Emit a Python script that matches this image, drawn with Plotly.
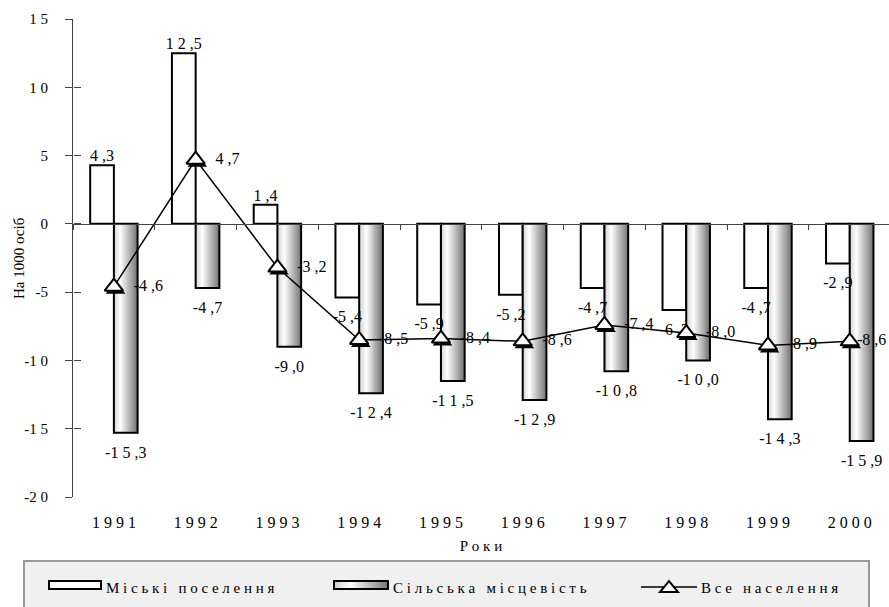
import plotly.graph_objects as go

# Природний приріст населення, на 1000 осіб
years = ["1991", "1992", "1993", "1994", "1995", "1996", "1997", "1998", "1999", "2000"]
urban = [4.3, 12.5, 1.4, -5.4, -5.9, -5.2, -4.7, -6.3, -4.7, -2.9]
rural = [-15.3, -4.7, -9.0, -12.4, -11.5, -12.9, -10.8, -10.0, -14.3, -15.9]
total = [-4.6, 4.7, -3.2, -8.5, -8.4, -8.6, -7.4, -8.0, -8.9, -8.6]
y_ticks = [15, 10, 5, 0, -5, -10, -15, -20]

name_urban = "Міські поселення"
name_rural = "Сільська місцевість"
name_total = "Все населення"
x_title = "Роки"
y_title = "На 1000 осіб"

FONT = "Liberation Serif, Times New Roman, serif"
INK = "#000000"
AXIS = "#444444"

# figure geometry (px)
FIG_W, FIG_H = 889, 607
M_L, M_R, M_T, M_B = 73, 0, 19, 110
PLOT_W = FIG_W - M_L - M_R
PLOT_H = FIG_H - M_T - M_B
PLOT_BOTTOM = FIG_H - M_B
X_RANGE = [-0.5, 9.48]
Y_RANGE = [-20, 15]

BAR_W = 0.29          # width of one bar, in category units
N_SLICES = 24         # slices used to shade the rural bars
GRAD = [(0.0, (206, 206, 206)), (0.3, (255, 255, 255)), (1.0, (118, 118, 118))]


def spread(s):
    """Letter-spaced text."""
    return "   ".join(" ".join(w) for w in s.split())


def num_label(v):
    ip, dp = f"{abs(v):.1f}".split(".")
    return ("-" if v < 0 else "") + " ".join(ip) + " ," + dp


def tick_label(v):
    return ("-" if v < 0 else "") + " ".join(str(abs(v)))


def grad_color(t):
    for (t0, c0), (t1, c1) in zip(GRAD[:-1], GRAD[1:]):
        if t <= t1:
            f = (t - t0) / (t1 - t0)
            return "rgb(%d,%d,%d)" % tuple(round(a + (b - a) * f) for a, b in zip(c0, c1))
    return "rgb(%d,%d,%d)" % GRAD[-1][1]


def px_x(px):
    return (px - M_L) / PLOT_W


def px_y(py):
    return (PLOT_BOTTOM - py) / PLOT_H


fig = go.Figure()

# urban bars (left of each year)
fig.add_trace(go.Bar(
    x=years, y=urban, offset=-BAR_W, width=BAR_W,
    marker=dict(color="white", line=dict(color=INK, width=2)),
    showlegend=False, name=name_urban,
))

# rural bars: shaded slices, then the outline
sw = BAR_W / N_SLICES
for i in range(N_SLICES):
    fig.add_trace(go.Bar(
        x=years, y=rural, offset=i * sw, width=sw * 1.15 if i < N_SLICES - 1 else sw,
        marker=dict(color=grad_color((i + 0.5) / N_SLICES), line=dict(width=0)),
        hoverinfo="skip", showlegend=False,
    ))
fig.add_trace(go.Bar(
    x=years, y=rural, offset=0, width=BAR_W,
    marker=dict(color="rgba(0,0,0,0)", line=dict(color=INK, width=2)),
    showlegend=False, name=name_rural,
))

idx = list(range(len(years)))
label_font = dict(family=FONT, size=16, color=INK)

# bar value labels (overlay axes share the same scale); invisible markers set the gap
for xs, vals in (([i - BAR_W / 2 for i in idx], urban), ([i + BAR_W / 2 for i in idx], rural)):
    fig.add_trace(go.Scatter(
        x=xs, y=vals, xaxis="x2", yaxis="y2", mode="markers+text",
        marker=dict(size=[0 if v >= 0 else 19 for v in vals], opacity=0),
        text=[num_label(v) for v in vals],
        textposition=["top center" if v >= 0 else "bottom center" for v in vals],
        textfont=label_font, cliponaxis=False, showlegend=False, hoverinfo="skip",
    ))

# total population line
fig.add_trace(go.Scatter(
    x=idx, y=total, xaxis="x2", yaxis="y2", mode="lines",
    line=dict(color=INK, width=1.5), showlegend=False, hoverinfo="skip",
))
fig.add_trace(go.Scatter(
    x=[i + 0.02 for i in idx], y=[v - 0.2 for v in total], xaxis="x2", yaxis="y2",
    mode="markers", marker=dict(symbol="triangle-up", size=17, color=INK),
    showlegend=False, hoverinfo="skip",
))
fig.add_trace(go.Scatter(
    x=idx, y=total, xaxis="x2", yaxis="y2", mode="markers",
    marker=dict(symbol="triangle-up", size=16, color="white", line=dict(color=INK, width=2)),
    showlegend=False, name=name_total,
))
fig.add_trace(go.Scatter(
    x=idx, y=total, xaxis="x2", yaxis="y2", mode="markers+text",
    marker=dict(size=[30] * (len(idx) - 1) + [10], opacity=0),
    text=[num_label(v) for v in total], textposition="middle right",
    textfont=label_font, cliponaxis=False, showlegend=False, hoverinfo="skip",
))

# legend panel
shapes = [dict(type="rect", xref="paper", yref="paper",
               x0=px_x(24), x1=px_x(869), y0=px_y(561), y1=px_y(615),
               fillcolor="#f0f0f0", line=dict(color="#999999", width=2), layer="above")]
shapes.append(dict(type="rect", xref="paper", yref="paper",
                   x0=px_x(49), x1=px_x(101), y0=px_y(581), y1=px_y(589),
                   fillcolor="white", line=dict(color=INK, width=2), layer="above"))
sx0, sx1 = 334, 388
n_leg = 18
for i in range(n_leg):
    a = sx0 + (sx1 - sx0) * i / n_leg
    b = sx0 + (sx1 - sx0) * (i + 1) / n_leg
    shapes.append(dict(type="rect", xref="paper", yref="paper",
                       x0=px_x(a), x1=px_x(b + 0.6), y0=px_y(581), y1=px_y(589),
                       fillcolor=grad_color((i + 0.5) / n_leg), line=dict(width=0), layer="above"))
shapes.append(dict(type="rect", xref="paper", yref="paper",
                   x0=px_x(sx0), x1=px_x(sx1), y0=px_y(581), y1=px_y(589),
                   fillcolor="rgba(0,0,0,0)", line=dict(color=INK, width=2), layer="above"))
shapes.append(dict(type="line", xref="paper", yref="paper",
                   x0=px_x(641), x1=px_x(697), y0=px_y(587), y1=px_y(587),
                   line=dict(color=INK, width=1.5), layer="above"))
tri = "M %f,%f L %f,%f L %f,%f Z" % (px_x(660), px_y(592), px_x(678), px_y(592), px_x(669), px_y(581))
shapes.append(dict(type="path", xref="paper", yref="paper", path=tri,
                   fillcolor="white", line=dict(color=INK, width=2), layer="above"))

leg_font = dict(family=FONT, size=15, color=INK)
annotations = [
    dict(text=spread(name_urban), x=px_x(104), y=px_y(588), xref="paper", yref="paper",
         xanchor="left", yanchor="middle", showarrow=False, font=leg_font),
    dict(text=spread(name_rural), x=px_x(391), y=px_y(588), xref="paper", yref="paper",
         xanchor="left", yanchor="middle", showarrow=False, font=leg_font),
    dict(text=spread(name_total), x=px_x(699), y=px_y(588), xref="paper", yref="paper",
         xanchor="left", yanchor="middle", showarrow=False, font=leg_font),
    # vertical axis title
    dict(text=y_title, x=px_x(19), y=0.5, xref="paper", yref="paper", textangle=-90,
         xanchor="center", yanchor="middle", showarrow=False,
         font=dict(family=FONT, size=15, color=INK)),
]

fig.update_layout(
    width=FIG_W, height=FIG_H,
    margin=dict(l=M_L, r=M_R, t=M_T, b=M_B, autoexpand=False),
    paper_bgcolor="white", plot_bgcolor="white",
    barmode="overlay", showlegend=False,
    font=dict(family=FONT, color=INK),
    xaxis=dict(
        type="category", range=X_RANGE, tickvals=years, ticktext=[spread(y) for y in years],
        showline=False, ticks="", showgrid=False, zeroline=False,
        tickfont=dict(family=FONT, size=16), ticklabelstandoff=14,
        title=dict(text=spread(x_title), font=dict(family=FONT, size=15), standoff=10),
    ),
    xaxis2=dict(
        overlaying="x", anchor="free", position=(0 - Y_RANGE[0]) / (Y_RANGE[1] - Y_RANGE[0]),
        range=X_RANGE, showline=True, linecolor=AXIS, linewidth=1,
        ticks="outside", ticklen=5, tickcolor=AXIS,
        tickvals=[i - 0.5 for i in range(len(years) + 1)], showticklabels=False,
        showgrid=False, zeroline=False,
    ),
    yaxis=dict(
        range=Y_RANGE, tickvals=y_ticks, ticktext=[tick_label(v) for v in y_ticks],
        ticks="outside", ticklen=7, tickcolor=AXIS, showline=True, linecolor=AXIS, linewidth=1,
        showgrid=False, zeroline=False, tickfont=dict(family=FONT, size=15),
        ticklabelstandoff=14,
    ),
    yaxis2=dict(
        overlaying="y", anchor="free", position=0, side="left", range=Y_RANGE,
        tickvals=y_ticks, ticks="inside", ticklen=7, tickcolor=AXIS,
        showticklabels=False, showline=False, showgrid=False, zeroline=False,
    ),
    shapes=shapes, annotations=annotations,
)

fig.write_html("out.html")
